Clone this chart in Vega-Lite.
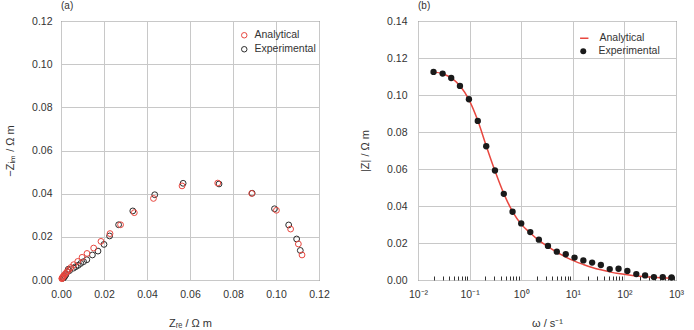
{
  "$schema": "https://vega.github.io/schema/vega-lite/v6.json",
  "padding": {"left": 4, "right": 5, "top": 0, "bottom": 2},
  "background": "white",
  "config": {
    "font": "Liberation Sans",
    "view": {"stroke": "#3a3a3a", "strokeWidth": 1},
    "axis": {
      "labelFont": "Liberation Sans", "labelFontSize": 10.5, "labelColor": "#333333",
      "titleFont": "Liberation Sans", "titleFontSize": 11, "titleFontWeight": "normal", "titleColor": "#333333",
      "gridColor": "#c8c8c8", "gridWidth": 1, "domain": false, "ticks": false, "labelPadding": 9,
      "labelFlush": false, "labelOverlap": false
    },
    "legend": {
      "labelFont": "Liberation Sans", "labelFontSize": 10.5, "labelColor": "#333333", "padding": 0, "rowPadding": 3
    },
    "title": {"font": "Liberation Sans", "fontSize": 10, "fontWeight": "normal", "anchor": "start", "frame": "group", "color": "#333333", "offset": 5}
  },
  "datasets": {
    "nyquist": [
      {"series": "Experimental", "zre": 0.1113, "zim": 0.0137},
      {"series": "Experimental", "zre": 0.1096, "zim": 0.0190},
      {"series": "Experimental", "zre": 0.1059, "zim": 0.0255},
      {"series": "Experimental", "zre": 0.0993, "zim": 0.0330},
      {"series": "Experimental", "zre": 0.0889, "zim": 0.0402},
      {"series": "Experimental", "zre": 0.0735, "zim": 0.0445},
      {"series": "Experimental", "zre": 0.0568, "zim": 0.0448},
      {"series": "Experimental", "zre": 0.0436, "zim": 0.0395},
      {"series": "Experimental", "zre": 0.0334, "zim": 0.0320},
      {"series": "Experimental", "zre": 0.0268, "zim": 0.0256},
      {"series": "Experimental", "zre": 0.0226, "zim": 0.0204},
      {"series": "Experimental", "zre": 0.0200, "zim": 0.0165},
      {"series": "Experimental", "zre": 0.0172, "zim": 0.0134},
      {"series": "Experimental", "zre": 0.0146, "zim": 0.0116},
      {"series": "Experimental", "zre": 0.0120, "zim": 0.0094},
      {"series": "Experimental", "zre": 0.0105, "zim": 0.0085},
      {"series": "Experimental", "zre": 0.0092, "zim": 0.0077},
      {"series": "Experimental", "zre": 0.0080, "zim": 0.0068},
      {"series": "Experimental", "zre": 0.0069, "zim": 0.0062},
      {"series": "Experimental", "zre": 0.0058, "zim": 0.0055},
      {"series": "Experimental", "zre": 0.0040, "zim": 0.0044},
      {"series": "Experimental", "zre": 0.0034, "zim": 0.0050},
      {"series": "Experimental", "zre": 0.0030, "zim": 0.0038},
      {"series": "Experimental", "zre": 0.0022, "zim": 0.0024},
      {"series": "Experimental", "zre": 0.0018, "zim": 0.0017},
      {"series": "Experimental", "zre": 0.0012, "zim": 0.0010},
      {"series": "Experimental", "zre": 0.0011, "zim": 0.0011},
      {"series": "Experimental", "zre": 0.0010, "zim": 0.0009},
      {"series": "Analytical", "zre": 0.1121, "zim": 0.0116},
      {"series": "Analytical", "zre": 0.1104, "zim": 0.0167},
      {"series": "Analytical", "zre": 0.1068, "zim": 0.0236},
      {"series": "Analytical", "zre": 0.1002, "zim": 0.0323},
      {"series": "Analytical", "zre": 0.0887, "zim": 0.0401},
      {"series": "Analytical", "zre": 0.0729, "zim": 0.0449},
      {"series": "Analytical", "zre": 0.0563, "zim": 0.0436},
      {"series": "Analytical", "zre": 0.0430, "zim": 0.0378},
      {"series": "Analytical", "zre": 0.0341, "zim": 0.0312},
      {"series": "Analytical", "zre": 0.0277, "zim": 0.0256},
      {"series": "Analytical", "zre": 0.0228, "zim": 0.0215},
      {"series": "Analytical", "zre": 0.0186, "zim": 0.0179},
      {"series": "Analytical", "zre": 0.0152, "zim": 0.0148},
      {"series": "Analytical", "zre": 0.0121, "zim": 0.0123},
      {"series": "Analytical", "zre": 0.0098, "zim": 0.0105},
      {"series": "Analytical", "zre": 0.0078, "zim": 0.0086},
      {"series": "Analytical", "zre": 0.0059, "zim": 0.0071},
      {"series": "Analytical", "zre": 0.0046, "zim": 0.0058},
      {"series": "Analytical", "zre": 0.0036, "zim": 0.0047},
      {"series": "Analytical", "zre": 0.0028, "zim": 0.0038},
      {"series": "Analytical", "zre": 0.0022, "zim": 0.0031},
      {"series": "Analytical", "zre": 0.0017, "zim": 0.0025},
      {"series": "Analytical", "zre": 0.0013, "zim": 0.0020},
      {"series": "Analytical", "zre": 0.0010, "zim": 0.0016},
      {"series": "Analytical", "zre": 0.0008, "zim": 0.0013},
      {"series": "Analytical", "zre": 0.0006, "zim": 0.0010},
      {"series": "Analytical", "zre": 0.0005, "zim": 0.0008},
      {"series": "Analytical", "zre": 0.0004, "zim": 0.0006}
    ],
    "bode_line": [
      {"omega": 0.02, "z": 0.1125}, {"omega": 0.03, "z": 0.1115}, {"omega": 0.044, "z": 0.1093},
      {"omega": 0.065, "z": 0.1050}, {"omega": 0.097, "z": 0.0975}, {"omega": 0.144, "z": 0.0862},
      {"omega": 0.21, "z": 0.0725}, {"omega": 0.31, "z": 0.0590}, {"omega": 0.46, "z": 0.0467},
      {"omega": 0.68, "z": 0.0370}, {"omega": 1.0, "z": 0.0302}, {"omega": 1.5, "z": 0.0254},
      {"omega": 2.2, "z": 0.0214}, {"omega": 3.3, "z": 0.0180}, {"omega": 4.9, "z": 0.0150},
      {"omega": 7.3, "z": 0.0124}, {"omega": 10.8, "z": 0.0102}, {"omega": 16, "z": 0.0084},
      {"omega": 23.7, "z": 0.0068}, {"omega": 35, "z": 0.0055}, {"omega": 52, "z": 0.0044},
      {"omega": 77, "z": 0.0035}, {"omega": 114, "z": 0.0028}, {"omega": 170, "z": 0.0022},
      {"omega": 252, "z": 0.0018}, {"omega": 373, "z": 0.0015}, {"omega": 553, "z": 0.0012},
      {"omega": 820, "z": 0.0010}
    ],
    "bode_pts": [
      {"omega": 0.02, "z": 0.1125}, {"omega": 0.03, "z": 0.1116}, {"omega": 0.044, "z": 0.1092},
      {"omega": 0.065, "z": 0.1049}, {"omega": 0.097, "z": 0.0977}, {"omega": 0.144, "z": 0.0860},
      {"omega": 0.21, "z": 0.0723}, {"omega": 0.31, "z": 0.0592}, {"omega": 0.46, "z": 0.0466},
      {"omega": 0.68, "z": 0.0369}, {"omega": 1.0, "z": 0.0306}, {"omega": 1.5, "z": 0.0259},
      {"omega": 2.2, "z": 0.0218}, {"omega": 3.3, "z": 0.0184}, {"omega": 4.9, "z": 0.0153},
      {"omega": 7.3, "z": 0.0139}, {"omega": 10.8, "z": 0.0121}, {"omega": 16, "z": 0.0106},
      {"omega": 23.7, "z": 0.0094}, {"omega": 35, "z": 0.0081}, {"omega": 52, "z": 0.0059},
      {"omega": 77, "z": 0.0061}, {"omega": 114, "z": 0.0049}, {"omega": 170, "z": 0.0032},
      {"omega": 252, "z": 0.0025}, {"omega": 373, "z": 0.0016}, {"omega": 553, "z": 0.0016},
      {"omega": 820, "z": 0.0014}
    ]
  },
  "spacing": 29,
  "resolve": {
    "scale": {"color": "independent", "shape": "independent"},
    "legend": {"color": "independent", "shape": "independent"}
  },
  "hconcat": [
    {
      "title": "(a)",
      "width": 258,
      "height": 259,
      "data": {"name": "nyquist"},
      "mark": {"type": "point", "filled": false, "size": 34, "strokeWidth": 1, "opacity": 1},
      "encoding": {
        "x": {
          "field": "zre", "type": "quantitative",
          "scale": {"domain": [0, 0.12], "nice": false},
          "axis": {"values": [0, 0.02, 0.04, 0.06, 0.08, 0.1, 0.12], "format": ".2f", "title": "Zᵣₑ / Ω m", "titlePadding": 18}
        },
        "y": {
          "field": "zim", "type": "quantitative",
          "scale": {"domain": [0, 0.12], "nice": false},
          "axis": {"values": [0, 0.02, 0.04, 0.06, 0.08, 0.1, 0.12], "format": ".2f", "title": "−Zᵢₘ / Ω m", "titlePadding": 16}
        },
        "color": {
          "field": "series", "type": "nominal",
          "scale": {"domain": ["Analytical", "Experimental"], "range": ["#e8473f", "#2b2b2b"]},
          "legend": {"title": null, "orient": "none", "legendX": 178, "legendY": 9, "symbolType": "circle", "symbolSize": 30, "symbolStrokeWidth": 1, "symbolFillColor": "transparent", "labelOffset": 5}
        }
      }
    },
    {
      "title": "(b)",
      "width": 258,
      "height": 259,
      "encoding": {
        "x": {
          "field": "omega", "type": "quantitative",
          "scale": {"type": "log", "domain": [0.01, 1000], "nice": false},
          "axis": {
            "values": [0.01, 0.02, 0.03, 0.04, 0.05, 0.06, 0.07, 0.08, 0.09, 0.1, 0.2, 0.3, 0.4, 0.5, 0.6, 0.7, 0.8, 0.9, 1, 2, 3, 4, 5, 6, 7, 8, 9, 10, 20, 30, 40, 50, 60, 70, 80, 90, 100, 200, 300, 400, 500, 600, 700, 800, 900, 1000],
            "labelExpr": "abs(log(datum.value)/LN10 - round(log(datum.value)/LN10)) < 0.001 ? ['10⁻²','10⁻¹','10⁰','10¹','10²','10³'][round(log(datum.value)/LN10)+2] : ''",
            "gridOpacity": {"condition": {"test": "abs(log(datum.value)/LN10 - round(log(datum.value)/LN10)) > 0.001", "value": 0}, "value": 1},
            "ticks": true,
            "tickColor": "#333333",
            "tickSize": {"condition": {"test": "abs(log(datum.value)/LN10 - round(log(datum.value)/LN10)) > 0.001", "value": -4}, "value": 0},
            "labelPadding": 9,
            "title": "ω / s⁻¹",
            "titlePadding": 18
          }
        },
        "y": {
          "field": "z", "type": "quantitative",
          "scale": {"domain": [0, 0.14], "nice": false},
          "axis": {"values": [0, 0.02, 0.04, 0.06, 0.08, 0.1, 0.12, 0.14], "format": ".2f", "title": "|Z| / Ω m", "labelPadding": 11, "titlePadding": 16}
        }
      },
      "layer": [
        {
          "data": {"name": "bode_line"},
          "mark": {"type": "line", "strokeWidth": 1.5, "interpolate": "monotone"},
          "encoding": {
            "color": {
              "datum": "Analytical",
              "scale": {"domain": ["Analytical"], "range": ["#e8473f"]},
              "legend": {"title": null, "orient": "none", "legendX": 161, "legendY": 12, "symbolType": "stroke", "symbolSize": 70, "symbolStrokeWidth": 1.5, "labelOffset": 10}
            }
          }
        },
        {
          "data": {"name": "bode_pts"},
          "mark": {"type": "point", "filled": true, "size": 40, "color": "#1a1a1a", "opacity": 1},
          "encoding": {
            "shape": {
              "datum": "Experimental",
              "scale": {"domain": ["Experimental"], "range": ["circle"]},
              "legend": {"title": null, "orient": "none", "legendX": 160, "legendY": 25, "symbolSize": 36, "symbolFillColor": "#1a1a1a", "symbolStrokeColor": "#1a1a1a", "labelOffset": 10}
            }
          }
        }
      ]
    }
  ]
}
